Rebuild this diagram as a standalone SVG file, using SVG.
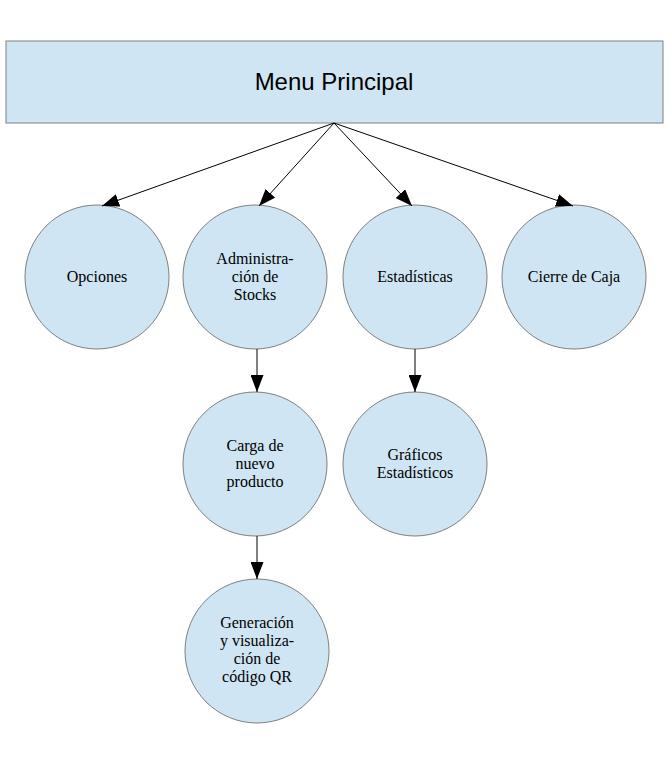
<svg xmlns="http://www.w3.org/2000/svg" width="670" height="761" viewBox="0 0 670 761">
<style>
.n{fill:#cfe5f3;stroke:#808080;stroke-width:1}
.t{font-family:"Liberation Serif","Times New Roman",serif;font-size:16px;fill:#000;text-anchor:middle}
.c{stroke:#000;stroke-width:1;fill:none;marker-end:url(#ah)}
</style>
<defs>
<marker id="ah" markerWidth="17" markerHeight="13" refX="17" refY="6.5" orient="auto" markerUnits="userSpaceOnUse">
<path d="M0,0 L17,6.5 L0,13 Z" fill="#000"/>
</marker>
</defs>
<rect width="670" height="761" fill="#fff"/>
<g id="menu">
<rect class="n" x="6" y="41" width="657" height="82"/>
<text x="334" y="90" style="font-family:'Liberation Sans',Arial,sans-serif;font-size:24px;text-anchor:middle">Menu Principal</text>
</g>
<g id="opciones">
<circle class="n" cx="97" cy="277" r="72"/>
<text class="t" x="97" y="282">Opciones</text>
</g>
<g id="admin">
<circle class="n" cx="255" cy="277" r="72"/>
<text class="t" x="255" y="264">Administra-</text>
<text class="t" x="255" y="282">ción de</text>
<text class="t" x="255" y="300">Stocks</text>
</g>
<g id="estadisticas">
<circle class="n" cx="415" cy="277" r="72"/>
<text class="t" x="415" y="282">Estadísticas</text>
</g>
<g id="cierre">
<circle class="n" cx="574" cy="277" r="72"/>
<text class="t" x="574" y="282">Cierre de Caja</text>
</g>
<g id="carga">
<circle class="n" cx="255" cy="464" r="72"/>
<text class="t" x="255" y="451">Carga de</text>
<text class="t" x="255" y="469">nuevo</text>
<text class="t" x="255" y="487">producto</text>
</g>
<g id="graficos">
<circle class="n" cx="415" cy="464" r="72"/>
<text class="t" x="415" y="460">Gráficos</text>
<text class="t" x="415" y="478">Estadísticos</text>
</g>
<g id="generacion">
<circle class="n" cx="257" cy="651" r="72"/>
<text class="t" x="257" y="628">Generación</text>
<text class="t" x="257" y="646">y visualiza-</text>
<text class="t" x="257" y="664">ción de</text>
<text class="t" x="257" y="682">código QR</text>
</g>
<g id="connectors">
<line class="c" x1="334" y1="123" x2="102" y2="206"/>
<line class="c" x1="334" y1="123" x2="259" y2="206"/>
<line class="c" x1="334" y1="123" x2="412" y2="206"/>
<line class="c" x1="334" y1="123" x2="573" y2="206"/>
<line class="c" x1="257" y1="349" x2="257" y2="392"/>
<line class="c" x1="415" y1="349" x2="415" y2="392"/>
<line class="c" x1="257" y1="536" x2="257" y2="579"/>
</g>
</svg>
